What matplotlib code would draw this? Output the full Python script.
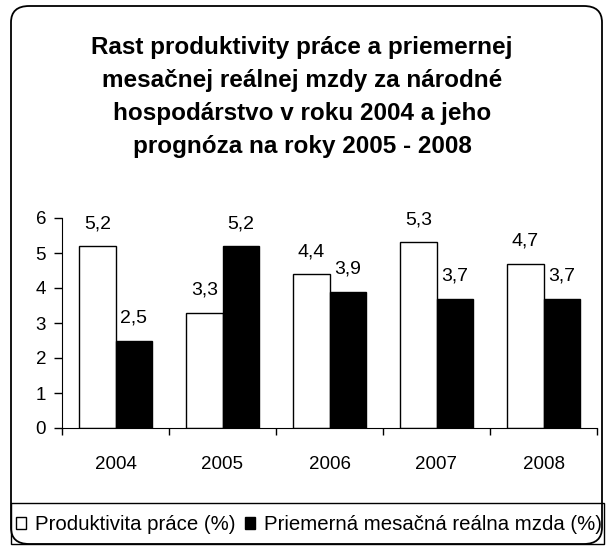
import numpy as np
import matplotlib.pyplot as plt
from matplotlib.patches import FancyBboxPatch, Rectangle

plt.rcParams['font.family'] = ['Liberation Sans', 'DejaVu Sans']

# dati
roky = ['2004', '2005', '2006', '2007', '2008']
produktivita = [5.2, 3.3, 4.4, 5.3, 4.7]
mzda = [2.5, 5.2, 3.9, 3.7, 3.7]
nazov = ("Rast produktivity práce a priemernej\n"
         "mesačnej reálnej mzdy za národné\n"
         "hospodárstvo v roku 2004 a jeho\n"
         "prognóza na roky 2005 - 2008")
legenda = ['Produktivita práce (%)', 'Priemerná mesačná reálna mzda (%)']

fig = plt.figure(figsize=(6.06, 5.46), dpi=100)

# ramik okolo grafu
ramik = FancyBboxPatch((11 / 606, 1 - 544 / 546), 591 / 606, 538 / 546,
                       boxstyle='round,pad=0,rounding_size=0.03',
                       transform=fig.transFigure, fill=False,
                       edgecolor='black', linewidth=1.3)
fig.patches.append(ramik)

fig.text(0.4985, 1 - 97 / 546, nazov, ha='center', va='center',
         fontsize=17.5, fontweight='bold', linespacing=1.57)

ax = fig.add_axes([62 / 606, 1 - 428 / 546, 535 / 606, 210 / 546])
x = np.arange(len(roky))
w = 0.34
b1 = ax.bar(x - w / 2, produktivita, w, color='white', edgecolor='black',
            linewidth=1.0, label=legenda[0])
b2 = ax.bar(x + w / 2, mzda, w, color='black', edgecolor='black',
            linewidth=1.0, label=legenda[1])

for i in range(len(roky)):
    ax.annotate(str(produktivita[i]).replace('.', ','), (x[i] - w / 2, produktivita[i]),
                xytext=(0, 10), textcoords='offset points', ha='center', va='bottom',
                fontsize=14)
    ax.annotate(str(mzda[i]).replace('.', ','), (x[i] + w / 2, mzda[i]),
                xytext=(0, 10), textcoords='offset points', ha='center', va='bottom',
                fontsize=14)

ax.set_xlim(-0.5, len(roky) - 0.5)
ax.set_ylim(0, 6)
ax.set_yticks(range(7))
ax.set_xticks(np.arange(-0.5, len(roky)), [''] * (len(roky) + 1))
ax.set_xticks(x, roky, minor=True)
ax.tick_params(axis='x', which='minor', length=0, pad=20, labelsize=13.5)
ax.tick_params(axis='x', which='major', length=5, width=1, direction='out')
ax.tick_params(axis='y', length=5.5, width=1, labelsize=13.5, pad=6)
ax.spines['top'].set_visible(False)
ax.spines['right'].set_visible(False)
ax.patch.set_visible(False)

# legenda
fig.patches.append(Rectangle((11 / 606, 1 - 544 / 546), 593 / 606, 41 / 546,
                             transform=fig.transFigure, fill=False,
                             edgecolor='black', linewidth=1.0))
fig.legend(handles=[b1, b2], labels=legenda, loc='center left',
           bbox_to_anchor=(16 / 606, 1 - 525 / 546), ncol=2, frameon=False,
           fontsize=14.7, handlelength=0.5, handleheight=0.5, handletextpad=0.45,
           columnspacing=0.45, borderaxespad=0, borderpad=0.0)

fig.savefig('out.png', dpi=100)
